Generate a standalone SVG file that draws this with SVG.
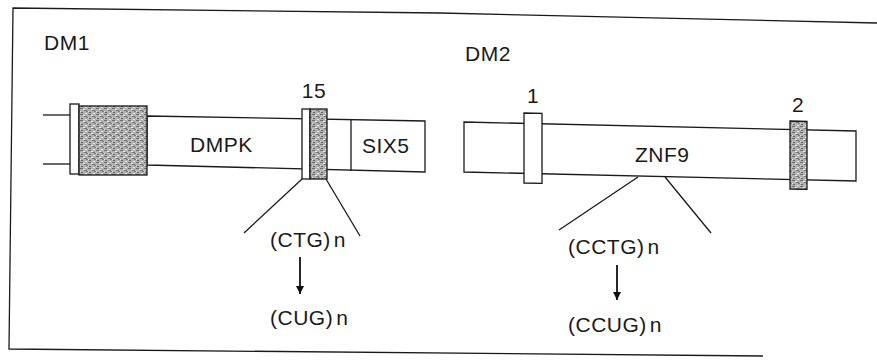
<svg xmlns="http://www.w3.org/2000/svg" width="877" height="363" viewBox="0 0 877 363">
  <defs>
    <pattern id="speckle" width="8" height="6" patternUnits="userSpaceOnUse">
      <rect width="8" height="6" fill="#b2b2b2"/>
      <rect x="0" y="0" width="3" height="1" fill="#6e6e6e"/>
      <rect x="4" y="2" width="3" height="1" fill="#777777"/>
      <rect x="1" y="4" width="2" height="1" fill="#6a6a6a"/>
      <rect x="5" y="5" width="2" height="1" fill="#e2e2e2"/>
      <rect x="3" y="1" width="2" height="1" fill="#e6e6e6"/>
      <rect x="6" y="3" width="2" height="1" fill="#808080"/>
      <rect x="0" y="3" width="1" height="1" fill="#dddddd"/>
    </pattern>
    <marker id="arrow" viewBox="0 0 10 10" refX="10" refY="5" markerWidth="10" markerHeight="8" markerUnits="userSpaceOnUse" orient="auto">
      <path d="M0,0 L10,5 L0,10 Z" fill="#111"/>
    </marker>
  </defs>
  <style>
    .ln { fill: none; stroke: #1a1a1a; stroke-width: 1.3; }
    .arr { fill: none; stroke: #111; stroke-width: 1.8; }
    .box { fill: #ffffff; stroke: #1a1a1a; stroke-width: 1.3; }
    .shade { fill: url(#speckle); stroke: #1a1a1a; stroke-width: 1.3; }
    .lbl { font-family: "Liberation Sans", Arial, sans-serif; font-size: 21px; letter-spacing: 0.5px; fill: #1a1a1a; }
  </style>
  <rect width="877" height="363" fill="#ffffff"/>

  <g id="frame">
    <polyline class="ln" points="877,23 440,13 13,8 9,349 763,356"/>
  </g>

  <g id="dm1">
    <text class="lbl" x="44" y="50">DM1</text>
    <line class="ln" x1="43" y1="115" x2="70" y2="115"/>
    <line class="ln" x1="43" y1="164" x2="70" y2="164"/>
    <polygon class="box" points="147,116 425,121 425,172 147,165"/>
    <line class="ln" x1="351" y1="120" x2="351" y2="171"/>
    <rect class="box" x="70" y="104" width="9" height="70"/>
    <rect class="shade" x="79" y="106" width="68" height="69"/>
    <text class="lbl" x="190" y="152">DMPK</text>
    <text class="lbl" x="362" y="153">SIX5</text>
  </g>

  <g id="exon15">
    <rect class="box" x="302" y="109" width="8" height="70"/>
    <rect class="shade" x="310" y="109" width="17" height="70"/>
    <text class="lbl" x="314" y="98" text-anchor="middle">15</text>
  </g>

  <g id="dm2">
    <text class="lbl" x="465" y="61">DM2</text>
    <polygon class="box" points="464,122 856,131 856,181 464,172"/>
    <text class="lbl" x="635" y="162">ZNF9</text>
  </g>

  <g id="exon1">
    <polygon class="box" points="524,113 542,113.4 542,183.4 524,183"/>
    <text class="lbl" x="533" y="103" text-anchor="middle">1</text>
  </g>

  <g id="exon2">
    <polygon class="shade" points="790,121 807,121.4 807,189.4 790,189"/>
    <text class="lbl" x="798" y="112" text-anchor="middle">2</text>
  </g>

  <g id="repeats">
    <text class="lbl" x="270" y="247">(CTG)<tspan dx="3">n</tspan></text>
    <text class="lbl" x="270" y="325">(CUG)<tspan dx="3">n</tspan></text>
    <text class="lbl" x="568" y="254">(CCTG)<tspan dx="3">n</tspan></text>
    <text class="lbl" x="568" y="332">(CCUG)<tspan dx="3">n</tspan></text>
  </g>

  <g id="connectors">
    <line class="ln" x1="302" y1="179" x2="244" y2="233"/>
    <line class="ln" x1="326" y1="179" x2="360" y2="236"/>
    <line class="ln" x1="638" y1="177" x2="559" y2="230"/>
    <line class="ln" x1="665" y1="177" x2="711" y2="233"/>
    <line class="arr" x1="300" y1="257" x2="300" y2="294" marker-end="url(#arrow)"/>
    <line class="arr" x1="617" y1="265" x2="617" y2="300" marker-end="url(#arrow)"/>
  </g>
</svg>
